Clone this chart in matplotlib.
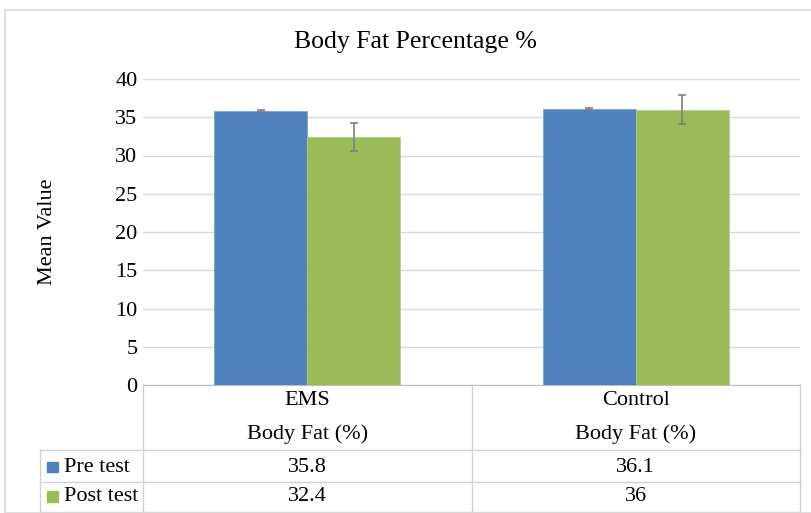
import numpy as np
import matplotlib.pyplot as plt
from matplotlib.patches import Rectangle

plt.rcParams['font.family'] = ['Liberation Serif', 'DejaVu Serif']

groups = ['EMS', 'Control']
sub_label = 'Body Fat (%)'
series = ['Pre test', 'Post test']
pre = [35.8, 36.1]
post = [32.4, 36.0]
pre_err = [0.15, 0.12]
post_err = [1.8, 1.9]
pre_txt = ['35.8', '36.1']
post_txt = ['32.4', '36']
colors = ['#4f81bd', '#9bbb59']

fs = 16

fig = plt.figure(figsize=(8.11, 5.13), dpi=100)
ax = fig.add_axes([143/811, 1 - 385/513, 657/811, 306/513])

x = np.arange(len(groups)) + 0.5
w = 0.283
ekw = dict(ecolor='#7f7f7f', capsize=3, elinewidth=1.2, capthick=1.2)
ax.bar(x - w/2, pre, w, color=colors[0], edgecolor='#7fa3d0', linewidth=0.6, zorder=3,
       yerr=pre_err, error_kw=ekw)
ax.bar(x + w/2, post, w, color=colors[1], edgecolor='#b4cf86', linewidth=0.6, zorder=3,
       yerr=post_err, error_kw=ekw)

ax.set_xlim(0, 2)
ax.set_ylim(0, 40)
ax.set_yticks(np.arange(0, 41, 5))
ax.tick_params(axis='y', length=0, labelsize=fs, pad=4)
ax.set_xticks([])
ax.grid(axis='y', color='#d9d9d9', linewidth=1, zorder=0)
for s in ['top', 'right', 'left']:
    ax.spines[s].set_visible(False)
ax.spines['bottom'].set_color('#bfbfbf')
ax.set_ylabel('Mean Value', fontsize=fs, labelpad=42)
fig.text(415/811, 1 - 42/513, 'Body Fat Percentage %', ha='center', va='center', fontsize=18.5)

# data table under the plot
tr = ax.get_xaxis_transform()
lc = '#d0d0d0'
left = -0.314
ax.plot([0, 0], [0, -0.415], transform=tr, color=lc, lw=1, clip_on=False)
ax.plot([1, 1], [0, -0.415], transform=tr, color=lc, lw=1, clip_on=False)
ax.plot([2, 2], [0, -0.415], transform=tr, color=lc, lw=1, clip_on=False)
ax.plot([left, left], [-0.212, -0.415], transform=tr, color=lc, lw=1, clip_on=False)
for yy in [-0.212, -0.317, -0.415]:
    ax.plot([left, 2], [yy, yy], transform=tr, color=lc, lw=1, clip_on=False)

for i, g in enumerate(groups):
    ax.text(x[i], -0.052, g, transform=tr, ha='center', va='center', fontsize=fs)
    ax.text(x[i], -0.16, sub_label, transform=tr, ha='center', va='center', fontsize=fs)
    ax.text(x[i], -0.268, pre_txt[i], transform=tr, ha='center', va='center', fontsize=fs)
    ax.text(x[i], -0.365, post_txt[i], transform=tr, ha='center', va='center', fontsize=fs)

for j, (name, yy) in enumerate(zip(series, [-0.268, -0.365])):
    ax.add_patch(Rectangle((-0.293, yy - 0.017), 0.033, 0.034, transform=tr,
                           color=colors[j], clip_on=False))
    ax.text(-0.24, yy, name, transform=tr, ha='left', va='center', fontsize=fs)

# outer chart frame
fig.patches.append(Rectangle((5/811, 0), 1.0, 1 - 10/513, transform=fig.transFigure,
                             fill=False, edgecolor='#d9d9d9', lw=1.2))

fig.savefig('out.png', dpi=100)
